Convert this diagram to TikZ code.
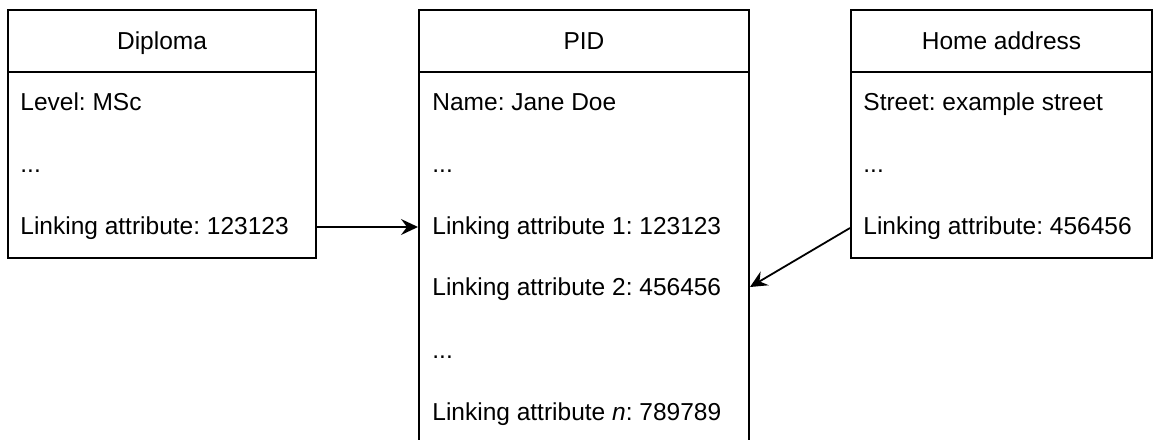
\documentclass[tikz,border=0pt]{standalone}
\usepackage{fontspec}
\setmainfont{Liberation Sans}
\usetikzlibrary{arrows.meta}
\frenchspacing
\begin{document}
\begin{tikzpicture}[x=0.5pt,y=-0.5pt,
  box/.style={draw=black, line width=1pt, fill=none, inner sep=0pt},
  title/.style={anchor=base, inner sep=0pt, font=\fontsize{12.25pt}{14pt}\selectfont},
  row/.style={anchor=base west, inner sep=0pt, font=\fontsize{12.25pt}{14pt}\selectfont},
  link/.style={draw=black, line width=0.9pt, -{Stealth[length=8.5pt,width=8pt,inset=3pt]}}
]
\useasboundingbox (0,0) rectangle (1154,439);
\clip (0,0) rectangle (1154,439);
\fill[white] (0,0) rectangle (1154,439);

% boxes
\node[box, minimum width=154pt, minimum height=124pt] (dip) at (162,134) {};
\node[box, minimum width=165pt, minimum height=225pt] (pid) at (584,235) {};
\node[box, minimum width=150.5pt, minimum height=124pt] (home) at (1001.5,134) {};

% header dividers
\coordinate (dipdiv) at (0,72);
\coordinate (piddiv) at (0,72);
\coordinate (homediv) at (0,72);
\draw[line width=1pt] (dip.west |- dipdiv) -- (dip.east |- dipdiv);
\draw[line width=1pt] (pid.west |- piddiv) -- (pid.east |- piddiv);
\draw[line width=1pt] (home.west |- homediv) -- (home.east |- homediv);

% titles
\node[title] (diptitle) at (162,49) {Diploma};
\node[title] (pidtitle) at (584,49) {PID};
\node[title] (hometitle) at (1001.5,49) {Home address};

% Diploma rows
\node[row] (dlevel) at (20,110) {Level: MSc};
\node[row] (ddots) at (20,172) {...};
\node[row] (dlink) at (20,234) {Linking attribute: 123123};

% PID rows
\node[row] (pname) at (432,110) {Name: Jane Doe};
\node[row] (pdots1) at (432,172) {...};
\node[row] (plink1) at (432,234) {Linking attribute 1: 123123};
\node[row] (plink2) at (432,295) {Linking attribute 2: 456456};
\node[row] (pdots2) at (432,358) {...};
\node[row] (plinkn) at (432,420) {Linking attribute \textit{n}: 789789};

% Home address rows
\node[row] (hstreet) at (863,110) {Street: example street};
\node[row] (hdots) at (863,172) {...};
\node[row] (hlink) at (863,234) {Linking attribute: 456456};

% connectors
\coordinate (a1) at (0,227);
\coordinate (a2s) at (0,228);
\coordinate (a2e) at (0,287);
\draw[link] (dip.east |- a1) -- (pid.west |- a1);
\draw[link] (home.west |- a2s) -- (pid.east |- a2e);
\end{tikzpicture}
\end{document}
